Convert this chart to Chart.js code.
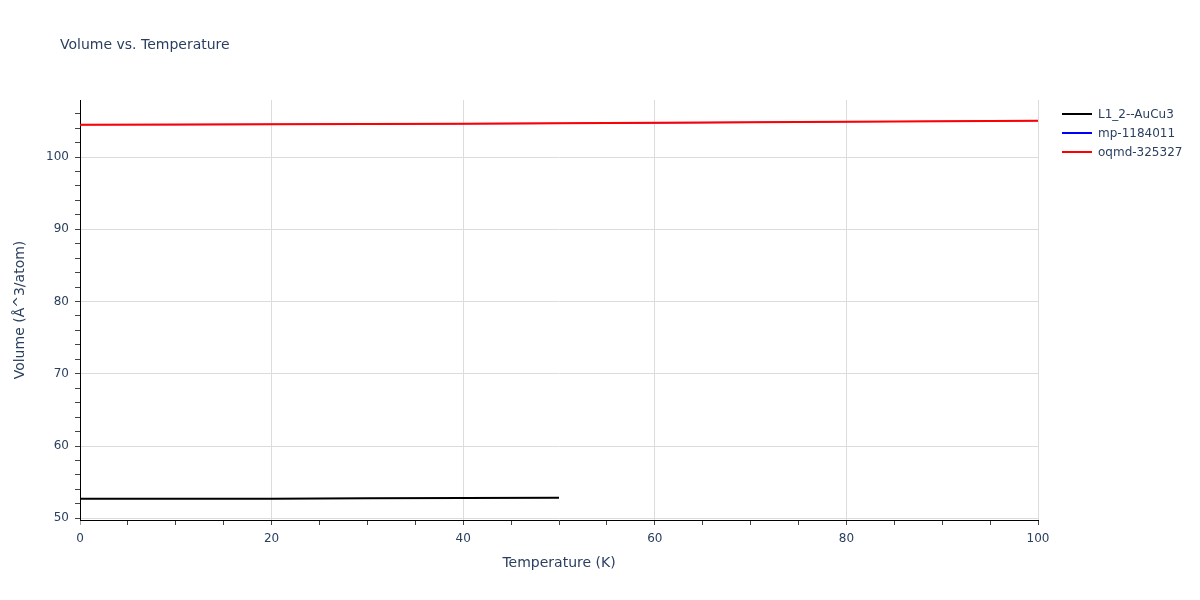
<!DOCTYPE html>
<html>
<head>
<meta charset="utf-8">
<script src="https://cdn.jsdelivr.net/npm/chart.js@4/dist/chart.umd.min.js"></script>
<style>
  html, body { margin: 0; padding: 0; background: #fff; }
  #wrap { width: 1200px; height: 600px; position: relative; }
</style>
</head>
<body>
<div id="wrap"><canvas id="c" width="1200" height="600"></canvas></div>
<script>
const chartTitle = "Volume vs. Temperature";
const xTitle = "Temperature (K)";
const yTitle = "Volume (Å^3/atom)";

const seriesNames = ["L1_2--AuCu3", "mp-1184011", "oqmd-325327"];
const seriesColors = ["#000000", "#0000ff", "#ff0000"];

const tempsBlack = [0, 10, 20, 30, 40, 50];
const volBlack = [52.70, 52.71, 52.72, 52.76, 52.80, 52.85];

const tempsBlue = [0, 10, 20, 30, 40, 50, 60, 70, 80, 90, 100];
const volBlue = [104.47, 104.49, 104.52, 104.56, 104.61, 104.66, 104.73, 104.80, 104.88, 104.95, 105.02];

const tempsRed = [0, 10, 20, 30, 40, 50, 60, 70, 80, 90, 100];
const volRed = [104.47, 104.49, 104.52, 104.56, 104.61, 104.66, 104.73, 104.80, 104.88, 104.95, 105.02];

const xMajorTicks = [0, 20, 40, 60, 80, 100];
const yMajorTicks = [50, 60, 70, 80, 90, 100];

const FONT = '"DejaVu Sans", Verdana, sans-serif';
const TEXT = '#2a3f5f';
const GRID = '#dcdcdc';

function pts(xs, ys) { return xs.map((x, i) => ({x: x, y: ys[i]})); }

const overlay = {
  id: 'overlay',
  afterDraw(chart) {
    const ctx = chart.ctx;
    ctx.save();
    ctx.fillStyle = TEXT;
    ctx.font = '14px ' + FONT;
    ctx.textBaseline = 'middle';
    ctx.textAlign = 'left';
    ctx.fillText(chartTitle, 60, 45);
    ctx.font = '12px ' + FONT;
    chart.data.datasets.forEach((ds, i) => {
      const y = 114 + i * 19;
      ctx.strokeStyle = ds.borderColor;
      ctx.lineWidth = 2;
      ctx.beginPath();
      ctx.moveTo(1062, y);
      ctx.lineTo(1092, y);
      ctx.stroke();
      ctx.fillStyle = TEXT;
      ctx.fillText(ds.label, 1098, y + 0.5);
    });
    ctx.restore();
  }
};

new Chart(document.getElementById('c'), {
  type: 'line',
  data: {
    datasets: [
      { label: seriesNames[0], data: pts(tempsBlack, volBlack), borderColor: seriesColors[0], backgroundColor: seriesColors[0], borderWidth: 2, pointRadius: 0, tension: 0, order: 3 },
      { label: seriesNames[1], data: pts(tempsBlue, volBlue), borderColor: seriesColors[1], backgroundColor: seriesColors[1], borderWidth: 1.2, pointRadius: 0, tension: 0, order: 2 },
      { label: seriesNames[2], data: pts(tempsRed, volRed), borderColor: seriesColors[2], backgroundColor: seriesColors[2], borderWidth: 2, pointRadius: 0, tension: 0, order: 1 }
    ]
  },
  options: {
    responsive: false,
    animation: false,
    layout: { padding: { left: 0, right: 162, top: 100, bottom: 0 } },
    plugins: { legend: { display: false }, title: { display: false }, tooltip: { enabled: false } },
    scales: {
      x: {
        type: 'linear',
        min: 0, max: 100,
        afterFit(scale) { scale.height = 80; },
        border: { color: '#000', width: 1 },
        grid: {
          color: c => (c.tick && xMajorTicks.includes(c.tick.value) && c.tick.value !== 0) ? GRID : 'rgba(0,0,0,0)',
          tickColor: c => (c.tick && c.tick.value === 0) ? '#aaaaaa' : '#444444',
          tickLength: 5,
          drawOnChartArea: true
        },
        ticks: {
          stepSize: 5,
          autoSkip: false,
          maxRotation: 0,
          includeBounds: false,
          padding: 7,
          color: TEXT,
          font: { family: FONT, size: 12 },
          callback: v => xMajorTicks.includes(v) ? String(v) : ''
        },
        title: { display: true, text: xTitle, color: TEXT, font: { family: FONT, size: 14 }, padding: { top: 0, bottom: 28 } }
      },
      y: {
        type: 'linear',
        min: 49.765, max: 107.89,
        afterFit(scale) { scale.width = 80; },
        border: { color: '#000', width: 1 },
        grid: {
          color: c => (c.tick && yMajorTicks.includes(c.tick.value)) ? GRID : 'rgba(0,0,0,0)',
          tickColor: '#444444',
          tickLength: 5
        },
        ticks: {
          stepSize: 2,
          autoSkip: false,
          includeBounds: false,
          padding: 6,
          color: TEXT,
          font: { family: FONT, size: 12 },
          callback: v => yMajorTicks.includes(v) ? String(v) : ''
        },
        title: { display: true, text: yTitle, color: TEXT, font: { family: FONT, size: 14 }, padding: { top: 12, bottom: 0 } }
      }
    }
  },
  plugins: [overlay]
});
</script>
</body>
</html>
